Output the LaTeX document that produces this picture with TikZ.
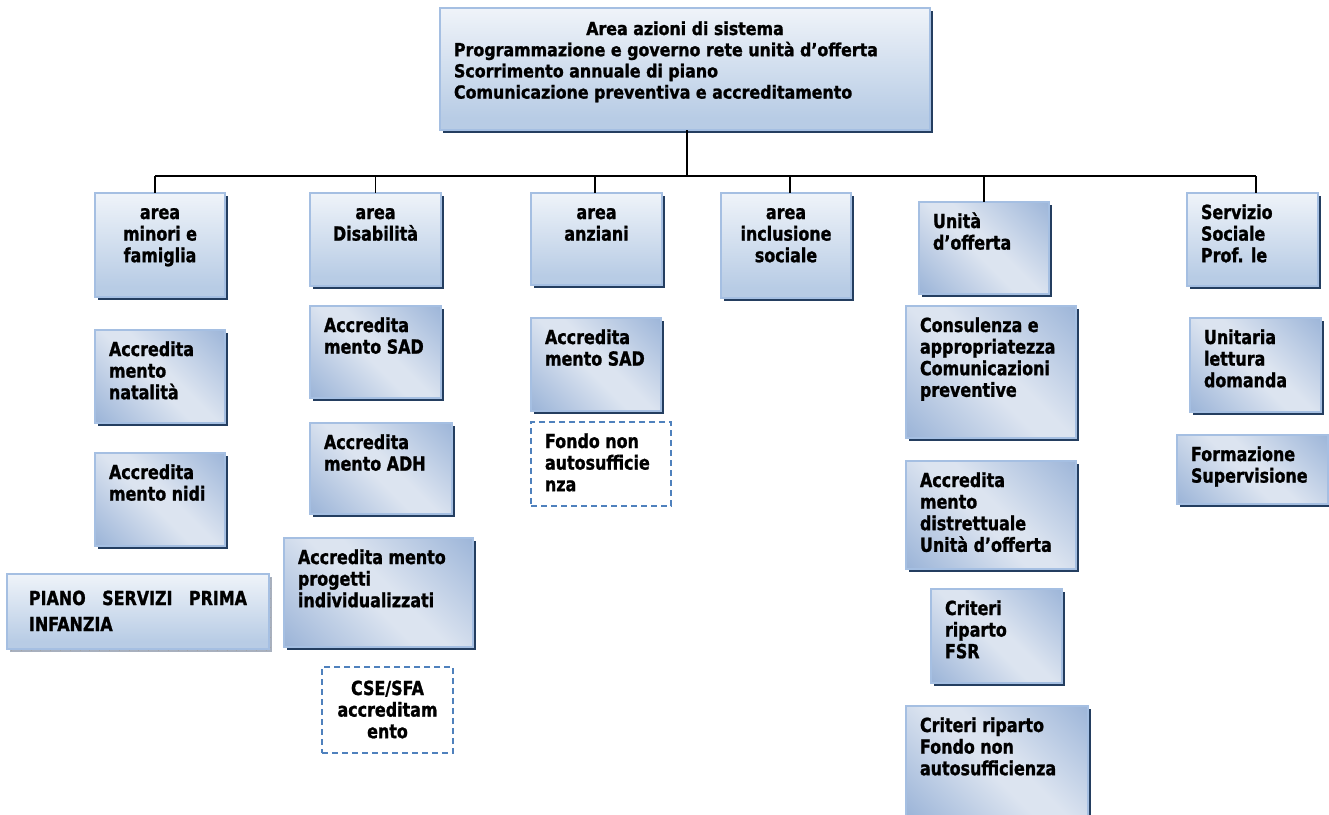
\documentclass[tikz,border=0pt]{standalone}
\usepackage{fontspec}
\setmainfont{DejaVu Sans}[FakeStretch=0.82, BoldFeatures={FakeBold=1.2}]
\newfontfamily\headfont{DejaVu Sans}[FakeStretch=0.88, BoldFeatures={FakeBold=1.2}]
\usetikzlibrary{shadows}

% palette
\definecolor{bord}{RGB}{165,191,226}
\definecolor{shd}{RGB}{36,62,96}
\definecolor{vbot}{RGB}{184,204,229}
\definecolor{dkb}{RGB}{124,157,204}
\definecolor{ltb}{RGB}{220,228,240}
\definecolor{mdb}{RGB}{128,160,206}
\definecolor{dashc}{RGB}{79,129,189}
\definecolor{pshd}{RGB}{168,176,190}

% fills: soft vertical fade and a diagonal two-sided band
\pgfdeclareverticalshading{vfade}{100bp}{color(0bp)=(vbot); color(30bp)=(vbot); color(88bp)=(white); color(100bp)=(white)}
\pgfdeclarehorizontalshading{dband}{100bp}{color(0bp)=(dkb); color(46bp)=(ltb); color(54bp)=(ltb); color(100bp)=(mdb)}

% box contents: fixed-size parbox, first baseline 26pt below the top
\newcommand\fst{\rule{0pt}{16pt}}
\newcommand\bxc[3]{\parbox[t][#2][t]{#1}{\centering\vspace*{10pt}\fst#3\par}}
\newcommand\bxl[3]{\parbox[t][#2][t]{#1}{\raggedright\leftskip=14pt\vspace*{10pt}\fst#3\par}}

\tikzset{
  boxbase/.style={anchor=north west, inner sep=0pt, outer sep=0pt,
    draw=bord, line width=1.4pt,
    drop shadow={opacity=1, fill=shd, shadow xshift=2.5pt, shadow yshift=-2.5pt}},
  vbox/.style={boxbase, shading=vfade},
  dbox/.style={boxbase, shading=dband, shading angle=45},
  pbox/.style={anchor=north west, inner sep=0pt, outer sep=0pt,
    draw=bord, line width=1.4pt, shading=vfade,
    drop shadow={opacity=1, fill=pshd, shadow xshift=3pt, shadow yshift=-3pt}},
  dashbox/.style={anchor=north west, inner sep=0pt, outer sep=0pt,
    draw=dashc, line width=1.4pt, dash pattern=on 6pt off 4pt, fill=white},
  conn/.style={draw=black, line width=1.3pt},
  ticks/.style={draw=gray!70, line width=0.8pt, dash pattern=on 0.8pt off 9pt}
}

\begin{document}
\begin{tikzpicture}[x=1pt,y=-1pt]
\useasboundingbox (0,0) rectangle (1329,814);
\bfseries\fontsize{19.4}{21.6}\selectfont

% head box
\node[vbox] (top) at (440,8) {\parbox[t][122pt][t]{490pt}{\headfont\bfseries\fontsize{18}{21.2}\selectfont
  \vspace*{11pt}\centering\fst Area azioni di sistema\par
  \raggedright\leftskip=14pt Programmazione e governo rete unità d’offerta\\
  Scorrimento annuale di piano\\
  Comunicazione preventiva e accreditamento\par}};

% first level
\node[vbox] (minori) at (95,193) {\bxc{130pt}{104pt}{area\\minori e\\famiglia}};
\node[vbox] (disab) at (310,193) {\bxc{131pt}{93pt}{area\\Disabilità}};
\node[vbox] (anziani) at (531,193) {\bxc{131pt}{92pt}{area\\anziani}};
\node[vbox] (inclus) at (721,193) {\bxc{130pt}{105pt}{area\\inclusione\\sociale}};
\node[dbox] (unita) at (919,202) {\bxl{130pt}{92pt}{Unità\\d’offerta}};
\node[vbox] (servizio) at (1187,193) {\bxl{131pt}{93pt}{Servizio\\Sociale\\Prof. le}};

% minori e famiglia
\node[dbox] (natalita) at (95,330) {\bxl{130pt}{93pt}{Accredita\\mento\\natalità}};
\node[dbox] (nidi) at (95,453) {\bxl{130pt}{93pt}{Accredita\\mento nidi}};
\node[pbox] (piano) at (7,574) {\parbox[t][75pt][t]{262pt}{\leftskip=22pt\vspace*{15pt}\fst\makebox[218pt][s]{PIANO SERVIZI PRIMA}\\[4.4pt]INFANZIA\par}};
\draw[ticks] ([xshift=4pt,yshift=-1.6pt]piano.south west) -- ([xshift=3pt,yshift=-1.6pt]piano.south east);
\draw[ticks] ([xshift=1.6pt,yshift=-4pt]piano.north east) -- ([xshift=1.6pt,yshift=-2pt]piano.south east);

% disabilita
\node[dbox] (dsad) at (310,306) {\bxl{131pt}{92pt}{Accredita\\mento SAD}};
\node[dbox] (adh) at (310,423) {\bxl{142pt}{91pt}{Accredita\\mento ADH}};
\node[dbox] (progetti) at (284,538) {\bxl{189pt}{109pt}{Accredita mento\\progetti\\individualizzati}};
\node[dashbox] (cse) at (322,667) {\parbox[t][86pt][t]{131pt}{\centering\vspace*{12pt}\fst CSE/SFA\\accreditam\\ento\par}};

% anziani
\node[dbox] (asad) at (531,318) {\bxl{130pt}{93pt}{Accredita\\mento SAD}};
\node[dashbox] (fondo) at (531,422) {\bxl{140pt}{84pt}{Fondo non\\autosufficie\\nza}};

% unita d'offerta
\node[dbox] (consul) at (906,306) {\bxl{170pt}{132pt}{Consulenza e\\appropriatezza\\Comunicazioni\\preventive}};
\node[dbox] (distr) at (906,461) {\bxl{170pt}{108pt}{Accredita\\mento\\distrettuale\\Unità d’offerta}};
\node[dbox] (fsr) at (931,589) {\bxl{131pt}{94pt}{Criteri\\riparto\\FSR}};
\node[dbox] (crit) at (906,706) {\bxl{182pt}{112pt}{Criteri riparto\\Fondo non\\autosufficienza}};

% servizio sociale
\node[dbox] (unitaria) at (1190,318) {\bxl{131pt}{94pt}{Unitaria\\lettura\\domanda}};
\node[dbox] (formaz) at (1177,435) {\bxl{151pt}{69pt}{Formazione\\Supervisione}};

% tree connectors
\coordinate (bus) at (687,176);
\coordinate (c0) at ([xshift=2pt]top.south);
\coordinate (c1) at ([xshift=-5pt]minori.north);
\coordinate (c2) at (disab.north);
\coordinate (c3) at ([xshift=-1.5pt]anziani.north);
\coordinate (c4) at ([xshift=4pt]inclus.north);
\coordinate (c5) at (unita.north);
\coordinate (c6) at ([xshift=3.5pt]servizio.north);
\draw[conn] (c0) -- (c0 |- bus);
\draw[conn] (c1 |- bus) -- (c6 |- bus);
\foreach \c in {c1,c2,c3,c4,c5,c6}
  \draw[conn] (\c |- bus) -- (\c);
\end{tikzpicture}
\end{document}
